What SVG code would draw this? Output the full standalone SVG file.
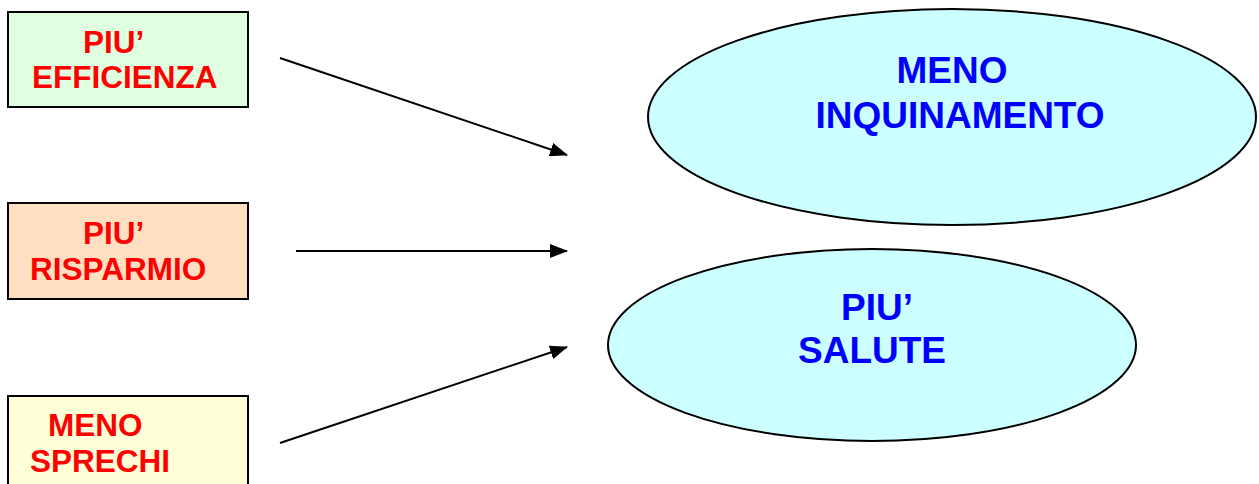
<svg xmlns="http://www.w3.org/2000/svg" width="1259" height="484" viewBox="0 0 1259 484">
  <style>
    .box { stroke: #000; stroke-width: 2; }
    .oval { fill: #ccffff; stroke: #000; stroke-width: 2; }
    .lbl { font-family: "Liberation Sans", Arial, sans-serif; font-weight: bold; }
    .red { fill: #ff0000; font-size: 31.5px; }
    .blue { fill: #0000ff; font-size: 37px; text-anchor: middle; }
    .conn { stroke: #000; stroke-width: 2; fill: none; marker-end: url(#head); }
  </style>
  <defs>
    <marker id="head" viewBox="0 0 18 14" refX="17" refY="7" markerWidth="18" markerHeight="14" markerUnits="userSpaceOnUse" orient="auto">
      <path d="M0,0 L18,7 L0,14 Z" fill="#000"/>
    </marker>
  </defs>

  <rect width="1259" height="484" fill="#fff"/>

  <g id="piu-efficienza">
    <rect class="box" x="8" y="12" width="240" height="95" fill="#e0ffe0"/>
    <text class="lbl red" x="83" y="53">PIU’</text>
    <text class="lbl red" x="32" y="88">EFFICIENZA</text>
  </g>

  <g id="piu-risparmio">
    <rect class="box" x="8" y="203" width="240" height="96" fill="#ffdfc2"/>
    <text class="lbl red" x="83" y="244">PIU’</text>
    <text class="lbl red" x="30" y="280">RISPARMIO</text>
  </g>

  <g id="meno-sprechi">
    <rect class="box" x="8" y="396" width="240" height="100" fill="#ffffd8"/>
    <text class="lbl red" x="48" y="436">MENO</text>
    <text class="lbl red" x="30" y="472">SPRECHI</text>
  </g>

  <g id="meno-inquinamento">
    <ellipse class="oval" cx="952" cy="117" rx="304" ry="108"/>
    <text class="lbl blue" x="952" y="83">MENO</text>
    <text class="lbl blue" x="960" y="128">INQUINAMENTO</text>
  </g>

  <g id="piu-salute">
    <ellipse class="oval" cx="872" cy="345" rx="264" ry="96"/>
    <text class="lbl blue" x="877" y="320">PIU’</text>
    <text class="lbl blue" x="872" y="363">SALUTE</text>
  </g>

  <g id="connectors">
    <line class="conn" x1="280" y1="58" x2="567" y2="155"/>
    <line class="conn" x1="296" y1="251" x2="567" y2="251"/>
    <line class="conn" x1="280" y1="443" x2="567" y2="347"/>
  </g>
</svg>
